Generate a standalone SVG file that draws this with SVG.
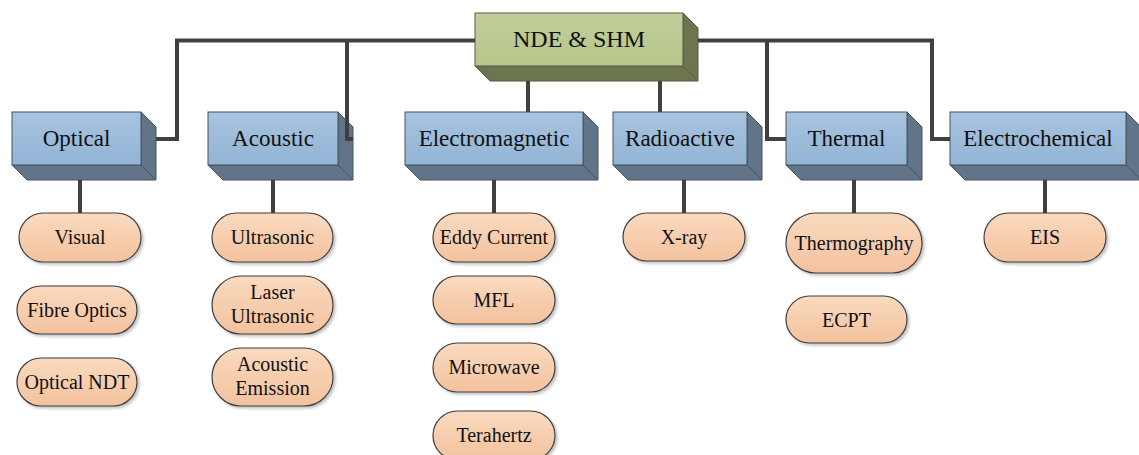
<svg xmlns="http://www.w3.org/2000/svg" width="1139" height="455" viewBox="0 0 1139 455">
  <defs>
    <linearGradient id="gBlue" x1="0" y1="0" x2="0" y2="1">
      <stop offset="0" stop-color="#a7c4e0"/>
      <stop offset="1" stop-color="#93b4d6"/>
    </linearGradient>
    <linearGradient id="gGreen" x1="0" y1="0" x2="0" y2="1">
      <stop offset="0" stop-color="#c2ce9a"/>
      <stop offset="1" stop-color="#b6c58c"/>
    </linearGradient>
    <linearGradient id="gPeach" x1="0" y1="0" x2="0" y2="1">
      <stop offset="0" stop-color="#fadabf"/>
      <stop offset="1" stop-color="#f3c29e"/>
    </linearGradient>
    <filter id="shadow" x="-10%" y="-10%" width="125%" height="130%">
      <feGaussianBlur in="SourceAlpha" stdDeviation="1.5"/>
      <feOffset dx="2" dy="2" result="b"/>
      <feComponentTransfer><feFuncA type="linear" slope="0.25"/></feComponentTransfer>
      <feMerge><feMergeNode/><feMergeNode in="SourceGraphic"/></feMerge>
    </filter>
  </defs>
  <style>
    .front { fill: url(#gBlue); stroke: #46525e; stroke-width: 1; }
    .side { fill: #627487; stroke: #46525e; stroke-width: 1; }
    .rfront { fill: url(#gGreen); stroke: #545c44; stroke-width: 1; }
    .rside { fill: #6c7550; stroke: #545c44; stroke-width: 1; }
    .pill { fill: url(#gPeach); stroke: #3e3e3e; stroke-width: 1.2; filter: url(#shadow); }
    .cat { font-family: "Liberation Serif", "Times New Roman", serif; font-size: 23px; fill: #111; text-anchor: middle; }
    .root { font-family: "Liberation Serif", "Times New Roman", serif; font-size: 24px; fill: #111; text-anchor: middle; }
    .leaf { font-family: "Liberation Serif", "Times New Roman", serif; font-size: 20px; fill: #111; text-anchor: middle; }
    .wire { fill: none; stroke: #404040; stroke-width: 4; }
  </style>

  <!-- root box -->
  <g id="root">
    <polygon class="rside" points="683,13 698,28 698,81 683,66"/>
    <polygon class="rside" points="475,66 683,66 698,81 490,81"/>
    <rect class="rfront" x="475" y="13" width="208" height="53"/>
    <text class="root" x="579" y="47">NDE &amp; SHM</text>
  </g>

  <!-- category boxes -->
  <g id="optical">
    <polygon class="side" points="141,112 156,127 156,180 141,165"/>
    <polygon class="side" points="12,165 141,165 156,180 27,180"/>
    <rect class="front" x="12" y="112" width="129" height="53"/>
    <text class="cat" x="76.5" y="146">Optical</text>
  </g>
  <g id="acoustic">
    <polygon class="side" points="338,112 353,127 353,180 338,165"/>
    <polygon class="side" points="208,165 338,165 353,180 223,180"/>
    <rect class="front" x="208" y="112" width="130" height="53"/>
    <text class="cat" x="273" y="146">Acoustic</text>
  </g>
  <g id="electromagnetic">
    <polygon class="side" points="583,112 598,127 598,180 583,165"/>
    <polygon class="side" points="405,165 583,165 598,180 420,180"/>
    <rect class="front" x="405" y="112" width="178" height="53"/>
    <text class="cat" x="494" y="146">Electromagnetic</text>
  </g>
  <g id="radioactive">
    <polygon class="side" points="747,112 762,127 762,180 747,165"/>
    <polygon class="side" points="613,165 747,165 762,180 628,180"/>
    <rect class="front" x="613" y="112" width="134" height="53"/>
    <text class="cat" x="680" y="146">Radioactive</text>
  </g>
  <g id="thermal">
    <polygon class="side" points="907,112 922,127 922,180 907,165"/>
    <polygon class="side" points="786,165 907,165 922,180 801,180"/>
    <rect class="front" x="786" y="112" width="121" height="53"/>
    <text class="cat" x="846.5" y="146">Thermal</text>
  </g>
  <g id="electrochemical">
    <polygon class="side" points="1126,112 1141,127 1141,180 1126,165"/>
    <polygon class="side" points="950,165 1126,165 1141,180 965,180"/>
    <rect class="front" x="950" y="112" width="176" height="53"/>
    <text class="cat" x="1038" y="146">Electrochemical</text>
  </g>

  <!-- method pills -->
  <g id="visual">
    <rect class="pill" x="19" y="213" width="122" height="49" rx="24.5"/>
    <text class="leaf" x="80" y="244">Visual</text>
  </g>
  <g id="fibre-optics">
    <rect class="pill" x="17" y="286" width="120" height="48" rx="24"/>
    <text class="leaf" x="77" y="317">Fibre Optics</text>
  </g>
  <g id="optical-ndt">
    <rect class="pill" x="17" y="358" width="120" height="48" rx="24"/>
    <text class="leaf" x="77" y="389">Optical NDT</text>
  </g>
  <g id="ultrasonic">
    <rect class="pill" x="212" y="213" width="121" height="49" rx="24.5"/>
    <text class="leaf" x="272.5" y="244">Ultrasonic</text>
  </g>
  <g id="laser-ultrasonic">
    <rect class="pill" x="212" y="276" width="121" height="58" rx="29"/>
    <text class="leaf" x="272.5" y="299">Laser</text>
    <text class="leaf" x="272.5" y="323">Ultrasonic</text>
  </g>
  <g id="acoustic-emission">
    <rect class="pill" x="212" y="348" width="121" height="58" rx="29"/>
    <text class="leaf" x="272.5" y="371">Acoustic</text>
    <text class="leaf" x="272.5" y="395">Emission</text>
  </g>
  <g id="eddy-current">
    <rect class="pill" x="433" y="213" width="122" height="49" rx="24.5"/>
    <text class="leaf" x="494" y="244">Eddy Current</text>
  </g>
  <g id="mfl">
    <rect class="pill" x="433" y="276" width="122" height="48" rx="24"/>
    <text class="leaf" x="494" y="307">MFL</text>
  </g>
  <g id="microwave">
    <rect class="pill" x="433" y="343" width="122" height="49" rx="24.5"/>
    <text class="leaf" x="494" y="374">Microwave</text>
  </g>
  <g id="terahertz">
    <rect class="pill" x="433" y="411" width="122" height="49" rx="24.5"/>
    <text class="leaf" x="494" y="442">Terahertz</text>
  </g>
  <g id="x-ray">
    <rect class="pill" x="623" y="213" width="122" height="48" rx="24"/>
    <text class="leaf" x="684" y="244">X-ray</text>
  </g>
  <g id="thermography">
    <rect class="pill" x="786" y="213" width="136" height="60" rx="30"/>
    <text class="leaf" x="854" y="250">Thermography</text>
  </g>
  <g id="ecpt">
    <rect class="pill" x="786" y="296" width="121" height="47" rx="23.5"/>
    <text class="leaf" x="846.5" y="327">ECPT</text>
  </g>
  <g id="eis">
    <rect class="pill" x="984" y="213" width="122" height="49" rx="24.5"/>
    <text class="leaf" x="1045" y="244">EIS</text>
  </g>

  <!-- connectors -->
  <g id="connectors">
    <polyline class="wire" points="475,40.5 177,40.5 177,139 156,139"/>
    <polyline class="wire" points="347,40.5 347,139 353,139"/>
    <line class="wire" x1="528" y1="81" x2="528" y2="112"/>
    <line class="wire" x1="660" y1="81" x2="660" y2="112"/>
    <polyline class="wire" points="698,40.5 932,40.5 932,139 950,139"/>
    <polyline class="wire" points="767,40.5 767,139 786,139"/>
    <line class="wire" x1="80" y1="180" x2="80" y2="213"/>
    <line class="wire" x1="273" y1="180" x2="273" y2="213"/>
    <line class="wire" x1="494" y1="180" x2="494" y2="213"/>
    <line class="wire" x1="684" y1="180" x2="684" y2="213"/>
    <line class="wire" x1="854" y1="180" x2="854" y2="213"/>
    <line class="wire" x1="1045" y1="180" x2="1045" y2="213"/>
  </g>
</svg>
